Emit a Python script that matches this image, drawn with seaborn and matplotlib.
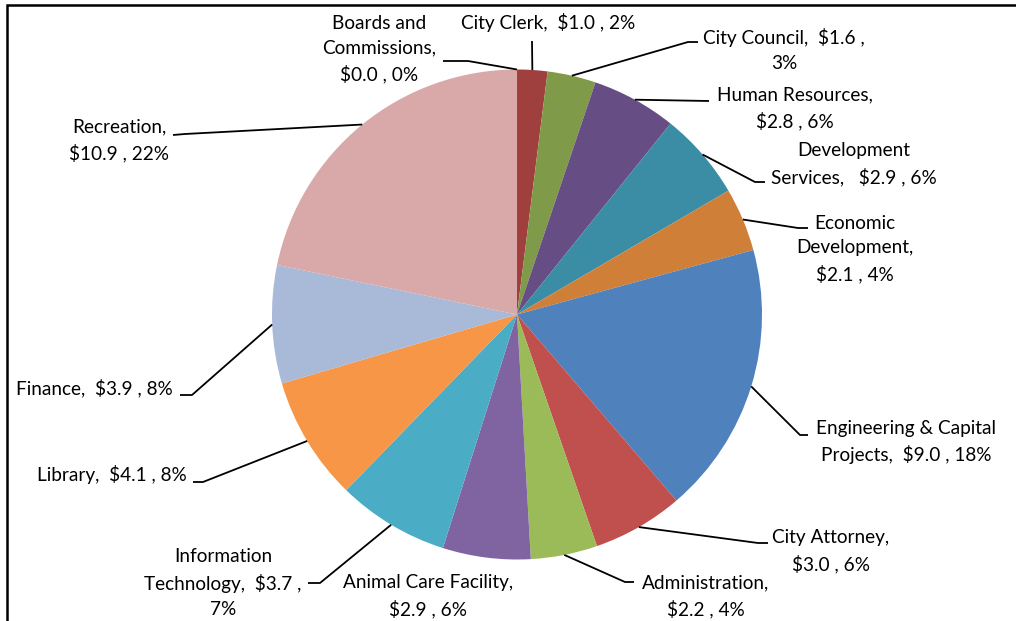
import numpy as np
import matplotlib
matplotlib.use("Agg")
import matplotlib.pyplot as plt
import seaborn as sns

# Department budgets (millions of dollars), clockwise from the top
categories = [
    "Boards and Commissions", "City Clerk", "City Council", "Human Resources",
    "Development Services", "Economic Development", "Engineering & Capital Projects",
    "City Attorney", "Administration", "Animal Care Facility",
    "Information Technology", "Library", "Finance", "Recreation",
]
budget = [0.0, 1.0, 1.6, 2.8, 2.9, 2.1, 9.0, 3.0, 2.2, 2.9, 3.7, 4.1, 3.9, 10.9]
colors = [
    "#4F6FA8", "#A0403E", "#7F9A48", "#664D84", "#3A8DA5", "#D07F39", "#4F81BD",
    "#C0504D", "#9BBB59", "#8064A2", "#4BACC6", "#F79646", "#A9B9D8", "#D9A9A9",
]

# How each label is wrapped: {v} dollar value, {p} percent
label_fmt = [
    "Boards and\nCommissions,\n{v} , {p}",
    "City Clerk,  {v} , {p}",
    "City Council,  {v} ,\n{p}",
    "Human Resources,\n{v} , {p}",
    "Development\nServices,   {v} , {p}",
    "Economic\nDevelopment,\n{v} , {p}",
    "Engineering & Capital\nProjects,  {v} , {p}",
    "City Attorney,\n{v} , {p}",
    "Administration,\n{v} , {p}",
    "Animal Care Facility,\n{v} , {p}",
    "Information\nTechnology,  {v} ,\n{p}",
    "Library,  {v} , {p}",
    "Finance,  {v} , {p}",
    "Recreation,\n{v} , {p}",
]

# Layout in pixel units: label centre, leader elbow, leader tick end
label_xy = [
    (379, 49), (548, 23), (784, 50), (795, 108), (854, 164), (855, 249),
    (906, 442), (831, 551), (706, 596), (428, 596), (223, 583), (112, 475),
    (94, 388), (119, 140),
]
elbow_xy = [
    (468, 61), (532, 41), (688, 42), (709, 101), (755, 182), (798, 228),
    (800, 435), (758, 543), (625, 582), None, (320, 583), (203, 482),
    (192, 395), (185, 134),
]
tick_xy = [
    (443, 61), None, (698, 42), None, (765, 182), (808, 228),
    (808, 435), (768, 543), (634, 582), None, (308, 583), (193, 482),
    (180, 395), (173, 135),
]

W, H = 1016, 621
CX, CY, R = 517, 314.5, 245

sns.set_theme(style="white")
plt.rcParams["font.family"] = ["Lato", "DejaVu Sans"]

fig = plt.figure(figsize=(W / 100, H / 100), dpi=100)
ax = fig.add_axes([0, 0, 1, 1])

palette = sns.color_palette(colors)
# y axis runs downward, so counterclock in data space is clockwise on screen
wedges, _ = ax.pie(
    budget, colors=palette, startangle=-90, counterclock=True,
    center=(CX, CY), radius=R, frame=True,
    wedgeprops=dict(linewidth=0),
)
ax.set_xlim(0, W)
ax.set_ylim(H, 0)
ax.set_aspect("equal")
ax.axis("off")

total = sum(budget)
cum = np.cumsum([0] + budget)
for i, name in enumerate(categories):
    pct = budget[i] / total * 100
    txt = label_fmt[i].format(v="\\$%.1f" % budget[i], p="%d%%" % round(pct))
    lx, ly = label_xy[i]
    ax.text(lx, ly, txt, ha="center", va="center", fontsize=13.7,
            color="#000000", linespacing=1.55, multialignment="center")

    if elbow_xy[i] is None:
        continue
    mid = (cum[i] + cum[i + 1]) / 2 / total * 2 * np.pi
    sx = CX + R * np.sin(mid)
    sy = CY - R * np.cos(mid)
    xs = [sx, elbow_xy[i][0]]
    ys = [sy, elbow_xy[i][1]]
    if tick_xy[i] is not None:
        xs.append(tick_xy[i][0])
        ys.append(tick_xy[i][1])
    ax.plot(xs, ys, color="#000000", lw=1.3, solid_capstyle="butt")

# chart frame: top and left edges (the rest lies outside the image)
ax.plot([7, 7, W + 10], [H + 10, 5, 5], color="#000000", lw=1.8,
        solid_joinstyle="miter", clip_on=False)

fig.savefig("out.png", dpi=100)
